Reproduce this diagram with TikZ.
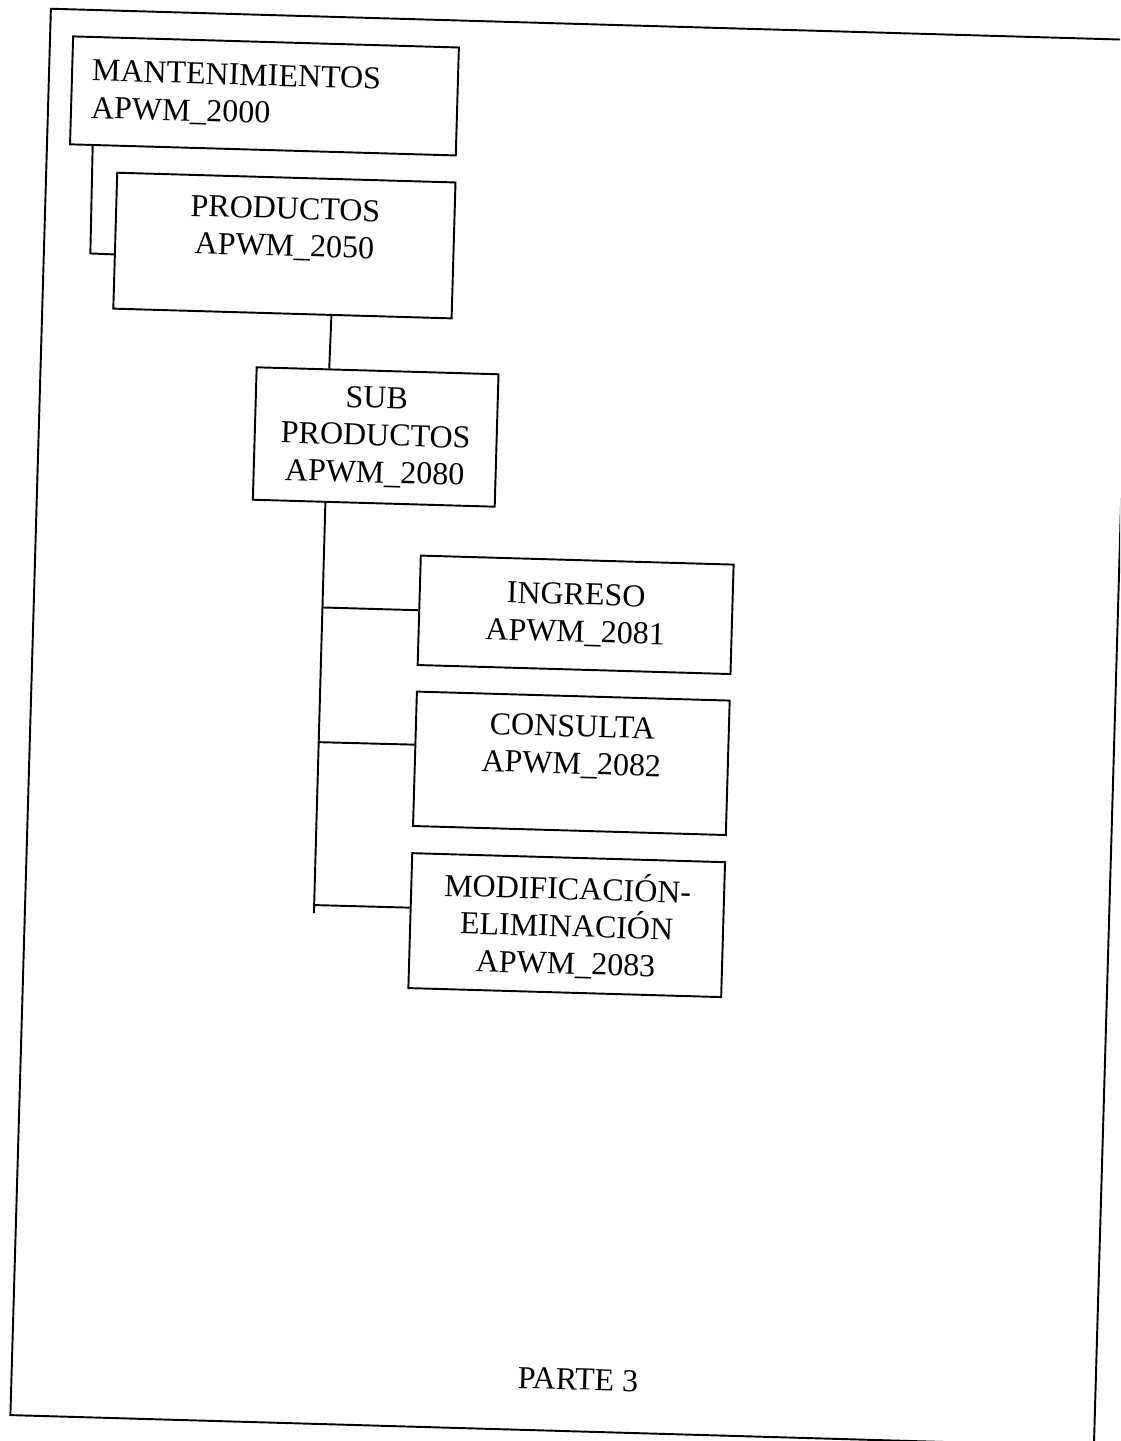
\documentclass[tikz,border=0pt]{standalone}
\usepackage{fontspec}
\setmainfont{Liberation Serif}
\usetikzlibrary{calc}
\begin{document}
\begin{tikzpicture}[x=0.02cm,y=-0.02cm,
  box/.style={draw=black, line width=1.1pt, rectangle, inner sep=0pt,
    font=\fontsize{18.2}{21.2}\selectfont, align=center},
  conn/.style={draw=black, line width=1.1pt},
  lbl/.style={inner sep=0pt, font=\fontsize{18.2}{21.2}\selectfont}]
\useasboundingbox (0,0) rectangle (1120,1441);
\fill[white] (0,0) rectangle (1120,1441);
\clip (0,0) rectangle (1120,1441);
\begin{scope}[rotate around={-1.65:(400,600)}, transform shape]
  % outer frame
  \draw[conn] (34,19) -- (1118,19) -- (1118,1426) -- (34,1426) -- cycle;
  % boxes
  \node[box, minimum width=7.72cm, minimum height=2.16cm, text width=6.92cm,
        align=left, inner xsep=0.4cm] (mant) at (250,100) {MANTENIMIENTOS\\APWM\_2000};
  \node[box, minimum width=6.77cm, minimum height=2.72cm] (prod) at (274.25,249)
        {PRODUCTOS\\APWM\_2050\\\mbox{}};
  \node[box, minimum width=4.84cm, minimum height=2.65cm] (sub) at (371,437.75)
        {SUB\\PRODUCTOS\\APWM\_2080};
  \node[box, minimum width=6.26cm, minimum height=2.19cm] (ing) at (576,609.75)
        {INGRESO\\APWM\_2081};
  \node[box, minimum width=6.26cm, minimum height=2.69cm] (cons) at (576,758.3)
        {CONSULTA\\APWM\_2082\\\mbox{}};
  \node[box, minimum width=6.26cm, minimum height=2.70cm] (mod) at (576,920.2)
        {MODIFICACIÓN-\\ELIMINACIÓN\\APWM\_2083};
  \node[lbl] (parte) at (600.4,1373.9) {PARTE 3};
  % connector points
  \coordinate (k1) at (80.5,262.5);
  \coordinate (tend) at (323,915.5);
  \coordinate (b1) at (323,609.75);
  \coordinate (b2) at (323,744.5);
  \coordinate (b3) at (323,907.5);
  % connectors
  \draw[conn] ($(mant.south west)!0.061!(mant.south east)$) -- (k1)
              -- ($(prod.north west)!0.6!(prod.south west)$);
  \draw[conn] ($(prod.south west)!0.644!(prod.south east)$)
              -- ($(sub.north west)!0.3017!(sub.north east)$);
  \draw[conn] ($(sub.south west)!0.3017!(sub.south east)$) -- (tend);
  \draw[conn] (b1) -- (ing.west);
  \draw[conn] (b2) -- ($(cons.north west)!0.397!(cons.south west)$);
  \draw[conn] (b3) -- ($(mod.north west)!0.406!(mod.south west)$);
\end{scope}
\end{tikzpicture}
\end{document}
